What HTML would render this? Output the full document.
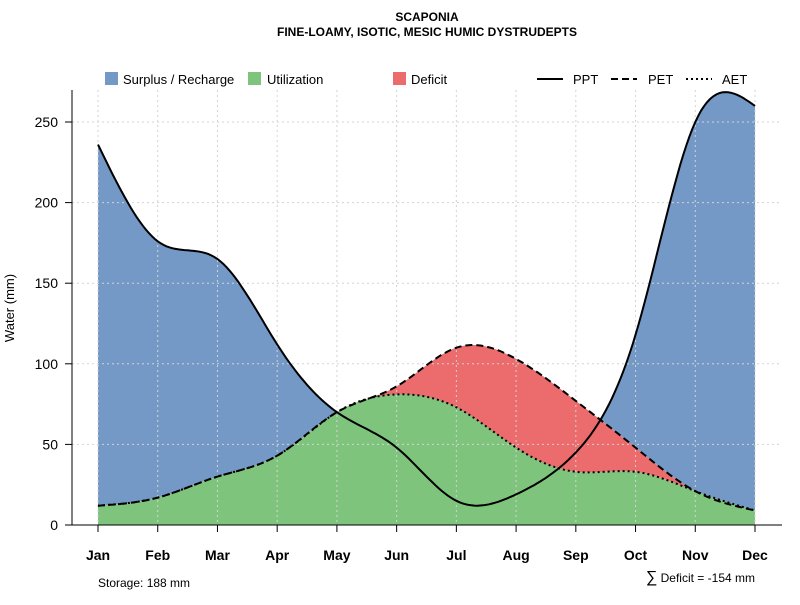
<!DOCTYPE html>
<html><head><meta charset="utf-8"><style>
body{margin:0;background:#fff;font-family:"Liberation Sans",sans-serif}
svg text{font-family:"Liberation Sans",sans-serif}
</style></head><body>
<svg id="chart" width="800" height="600">
<text x="427" y="21" text-anchor="middle" font-size="12" font-weight="bold">SCAPONIA</text>
<text x="427" y="36" text-anchor="middle" font-size="12" font-weight="bold">FINE-LOAMY, ISOTIC, MESIC HUMIC DYSTRUDEPTS</text>
<g id="fills"></g><g id="grid"></g><g id="lines"></g><g id="axes"></g>
<g font-size="13">
<rect x="105" y="72" width="13" height="13" fill="#7499C7"/>
<text x="123" y="84">Surplus / Recharge</text>
<rect x="248" y="72" width="13" height="13" fill="#7FC47C"/>
<text x="267" y="84">Utilization</text>
<rect x="393" y="72" width="13" height="13" fill="#EC6B6C"/>
<text x="411" y="84">Deficit</text>
<line x1="537" y1="79" x2="563" y2="79" stroke="#000" stroke-width="2"/>
<text x="573" y="84">PPT</text>
<line x1="611" y1="79" x2="637" y2="79" stroke="#000" stroke-width="2" stroke-dasharray="7,4"/>
<text x="648" y="84">PET</text>
<line x1="686" y1="79" x2="712" y2="79" stroke="#000" stroke-width="2" stroke-dasharray="2,3"/>
<text x="722" y="84">AET</text>
</g>
<text x="14" y="308" transform="rotate(-90 14 308)" text-anchor="middle" font-size="13">Water (mm)</text>
<text x="98" y="587" font-size="12">Storage: 188 mm</text>
<text x="755" y="582" text-anchor="end" font-size="12"><tspan font-size="16">∑</tspan> Deficit = -154 mm</text>
</svg>
<script>
const months=["Jan","Feb","Mar","Apr","May","Jun","Jul","Aug","Sep","Oct","Nov","Dec"];
const ppt=[236,176,165,112,70,48,15,19,45,118,250,260];
const pet=[12,17,30,43,70,86,110,103,77,48,21,9];
const aet=[12,17,30,43,70,81,73,48,33,33,21,9];
const yTicks=[0,50,100,150,200,250];
const NS="http://www.w3.org/2000/svg";
const X=i=>98+i*(755-98)/11, Y=v=>525-v*(525-122)/250;
function spline(ys){const n=ys.length,m=new Array(n).fill(0);const c=new Array(n).fill(0),d=new Array(n).fill(0);
 for(let i=1;i<n-1;i++){const r=6*(ys[i+1]-2*ys[i]+ys[i-1]);const den=4-c[i-1];c[i]=1/den;d[i]=(r-d[i-1])/den;}
 for(let i=n-2;i>0;i--)m[i]=d[i]-c[i]*m[i+1];
 const pts=[];for(let i=0;i<n-1;i++)for(let k=0;k<20;k++){const t=k/20;
 const v=(1-t)*ys[i]+t*ys[i+1]+((1-t)**3-(1-t))*m[i]/6+(t**3-t)*m[i+1]/6;pts.push([X(i+t),Y(v)]);}
 pts.push([X(n-1),Y(ys[n-1])]);return pts;}
const P=spline(ppt),E=spline(pet),A=spline(aet);
const str=p=>p.map(q=>q[0].toFixed(1)+","+q[1].toFixed(1)).join(" ");
function add(g,tag,at,name){const e=document.createElementNS(NS,tag);for(const k in at)e.setAttribute(k,at[k]);
 
 
 document.getElementById(g).appendChild(e);return e;}
add("fills","polygon",{points:str(P)+" "+str(E.slice().reverse()),fill:"#7499C7"},"surplus-area");
add("fills","polygon",{points:str(E)+" "+str(A.slice().reverse()),fill:"#EC6B6C"},"deficit-area");
add("fills","polygon",{points:str(A)+` ${X(11)},525 ${X(0)},525`,fill:"#7FC47C"},"utilization-area");
months.forEach((m,i)=>{add("grid","line",{x1:X(i),x2:X(i),y1:90,y2:525,stroke:"#d3d3d3","stroke-dasharray":"2,3"},"grid-x-"+m);
 add("axes","line",{x1:X(i),x2:X(i),y1:525,y2:532,stroke:"#000"},"x-tick-"+m);
 const t=add("axes","text",{x:X(i),y:560,"text-anchor":"middle","font-size":"14","font-weight":"bold"},"x-label-"+m);t.textContent=m;});
yTicks.forEach(v=>{add("grid","line",{x1:72,x2:782,y1:Y(v),y2:Y(v),stroke:"#d3d3d3","stroke-dasharray":"2,3"},"grid-y-"+v);
 add("axes","line",{x1:65,x2:72,y1:Y(v),y2:Y(v),stroke:"#000"},"y-tick-"+v);
 const t=add("axes","text",{x:58,y:Y(v)+5,"text-anchor":"end","font-size":"14"},"y-label-"+v);t.textContent=v;});
add("axes","line",{x1:72,x2:72,y1:90,y2:525,stroke:"#000"},"y-axis-line");
add("axes","line",{x1:72,x2:782,y1:525,y2:525,stroke:"#000"},"x-axis-line");
add("lines","polyline",{points:str(A),fill:"none",stroke:"#000","stroke-width":2,"stroke-dasharray":"2,3"},"aet-line");
add("lines","polyline",{points:str(E),fill:"none",stroke:"#000","stroke-width":2,"stroke-dasharray":"7,4"},"pet-line");
add("lines","polyline",{points:str(P),fill:"none",stroke:"#000","stroke-width":2},"ppt-line");
</script>
</body></html>
